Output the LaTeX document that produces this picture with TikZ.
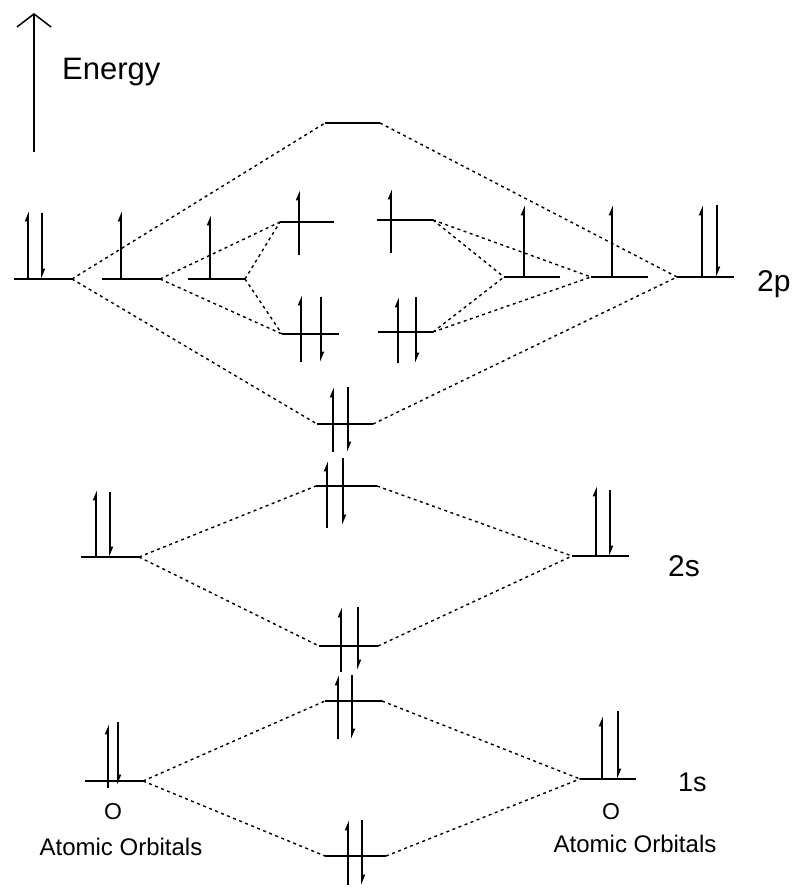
\documentclass[tikz,border=0pt]{standalone}
\usepackage{fontspec}
\setmainfont{Liberation Sans}
\usetikzlibrary{arrows.meta}
\tikzset{
  level/.style={line width=2pt},
  spin/.style={line width=1.8pt, -{Triangle[left,length=8pt,width=6pt]}},
  link/.style={line width=1.4pt, dash pattern=on 3pt off 3.5pt},
  lbl/.style={inner sep=0pt, font=\fontsize{30}{30}\selectfont},
  atom/.style={inner sep=0pt, font=\fontsize{23}{23}\selectfont},
  aolbl/.style={inner sep=0pt, anchor=base, font=\fontsize{24}{24}\selectfont},
}
\newcommand\lvl[4]{\coordinate (#1-l) at (#2,#4); \coordinate (#1-r) at (#3,#4); \draw[level] (#1-l) -- (#1-r);}
\newcommand\espin[3]{\draw[spin] (#1,#2) -- (#1,#3);}
\begin{document}
\begin{tikzpicture}[x=1pt,y=-1pt]
\useasboundingbox[fill=white] (0,0) rectangle (795,888);
% energy axis
\coordinate (ebot) at (34,152);
\coordinate (etop) at (34,13);
\draw[line width=1.5pt, -{Straight Barb[length=13pt,width=34pt,line width=1.5pt]}] (ebot) -- (etop);
\node[lbl, anchor=base west, font=\fontsize{31}{31}\selectfont] (energy) at (62,80) {Energy};
% levels
\lvl{spst}{325}{380}{123}
\lvl{AL1}{14}{72}{279}
\lvl{AL2}{102}{160}{279}
\lvl{AL3}{188}{245}{279}
\lvl{pisL}{280}{334}{222}
\lvl{pisR}{377}{433}{220}
\lvl{piL}{282}{339}{334}
\lvl{piR}{378}{433}{332}
\lvl{sp}{317}{373}{424}
\lvl{AR1}{504}{560}{277}
\lvl{AR2}{591}{648}{277}
\lvl{AR3}{677}{734}{277}
\lvl{stL}{81}{139}{557}
\lvl{stst}{316}{377}{486}
\lvl{st}{319}{378}{646}
\lvl{stR}{572}{629}{556}
\lvl{soL}{85}{143}{781}
\lvl{sost}{325}{382}{701}
\lvl{so}{325}{386}{856}
\lvl{soR}{580}{636}{779}
% electrons
\espin{28}{279}{211}\espin{42}{213}{279}
\espin{121}{279}{211}
\espin{210}{279}{215}
\espin{299}{255}{190}
\espin{391}{253}{189}
\espin{301}{362}{295}\espin{321}{297}{362}
\espin{398}{363}{297}\espin{416}{297}{363}
\espin{333}{452}{387}\espin{348}{387}{452}
\espin{524}{277}{205}
\espin{612}{277}{205}
\espin{702}{277}{205}\espin{717}{205}{277}
\espin{96}{557}{490}\espin{110}{492}{557}
\espin{327}{528}{461}\espin{343}{458}{525}
\espin{341}{672}{607}\espin{358}{607}{670}
\espin{596}{556}{486}\espin{610}{490}{556}
\espin{108}{788}{724}\espin{118}{722}{785}
\espin{338}{739}{675}\espin{352}{675}{739}
\espin{348}{885}{820}\espin{362}{820}{885}
\espin{602}{779}{716}\espin{618}{711}{779}
% connectors
\draw[link] (AL1-r) -- (spst-l);
\draw[link] (AL1-r) -- (sp-l);
\draw[link] (spst-r) -- (AR3-l);
\draw[link] (sp-r) -- (AR3-l);
\draw[link] (AL2-r) -- (pisL-l);
\draw[link] (AL2-r) -- (piL-l);
\draw[link] (AL3-r) -- (pisL-l);
\draw[link] (AL3-r) -- (piL-l);
\draw[link] (pisR-r) -- (AR1-l);
\draw[link] (pisR-r) -- (AR2-l);
\draw[link] (piR-r) -- (AR1-l);
\draw[link] (piR-r) -- (AR2-l);
\draw[link] (stL-r) -- (stst-l);
\draw[link] (stL-r) -- (st-l);
\draw[link] (stst-r) -- (stR-l);
\draw[link] (st-r) -- (stR-l);
\draw[link] (soL-r) -- (sost-l);
\draw[link] (soL-r) -- (so-l);
\draw[link] (sost-r) -- (soR-l);
\draw[link] (so-r) -- (soR-l);
% labels
\node[lbl, anchor=base west] (l2p) at (757,291) {2p};
\node[lbl, anchor=base west] (l2s) at (668,576) {2s};
\node[lbl, anchor=base west, font=\fontsize{27}{27}\selectfont] (l1s) at (678,791) {1s};
\node[atom] (oL) at (113,812) {O};
\node[atom] (oR) at (611,812) {O};
\node[aolbl] (aoL) at (121,855) {Atomic Orbitals};
\node[aolbl] (aoR) at (635,852) {Atomic Orbitals};
\end{tikzpicture}
\end{document}
